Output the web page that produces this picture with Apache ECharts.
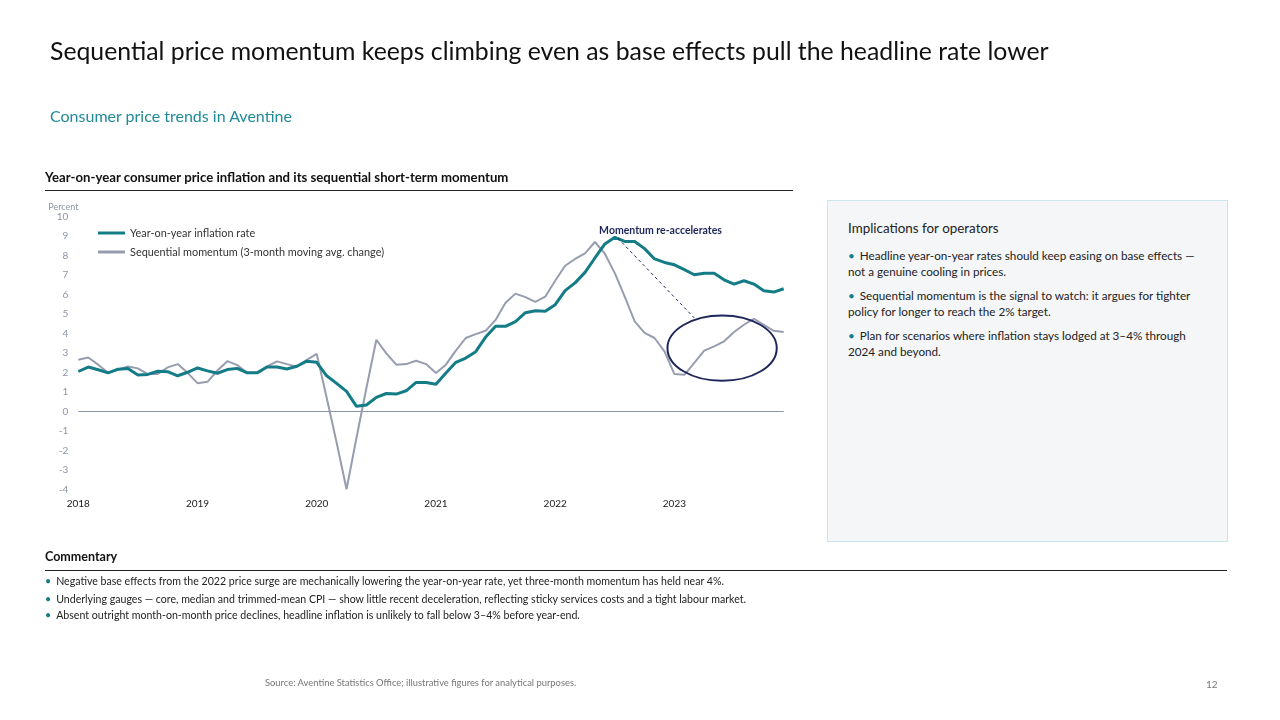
<!DOCTYPE html>
<html>
<head>
<meta charset="utf-8">
<script src="https://cdn.jsdelivr.net/npm/echarts@6/dist/echarts.min.js"></script>
<style>
  body { margin: 0; background: #fff; font-family: Lato, 'Noto Sans', sans-serif; }
  #page { position: relative; width: 1280px; height: 720px; overflow: hidden; }
  #chart { position: absolute; left: 0; top: 0; width: 1280px; height: 720px; }
  .t { position: absolute; white-space: nowrap; z-index: 2; }
  .dot { color: #137c87; margin-right: 5px; }
</style>
</head>
<body>
<div id="page">
  <div id="chart"></div>
  <div class="t" style="left:50px;top:36px;font-size:24.8px;line-height:30px;color:#111;">Sequential price momentum keeps climbing even as base effects pull the headline rate lower</div>
  <div class="t" style="left:50px;top:106px;font-size:16px;line-height:20px;color:#1f8b98;">Consumer price trends in Aventine</div>
  <div class="t" style="left:45px;top:169px;font-size:13.2px;line-height:16px;font-weight:bold;color:#111;">Year-on-year consumer price inflation and its sequential short-term momentum</div>
  <div class="t" style="left:45px;top:190px;width:748px;height:1px;background:#222;"></div>

  <div class="t" style="left:827px;top:200px;width:399px;height:340px;background:#f4f6f8;border:1px solid #cbe7ee;"></div>
  <div class="t" style="left:848px;top:220px;font-size:13.4px;line-height:16px;color:#222;">Implications for operators</div>
  <div class="t" style="left:848px;top:247px;font-size:11.7px;line-height:16px;color:#222;"><span class="dot">•</span>Headline year-on-year rates should keep easing on base effects —<br>not a genuine cooling in prices.</div>
  <div class="t" style="left:848px;top:288px;font-size:11.7px;line-height:15.5px;color:#222;"><span class="dot">•</span>Sequential momentum is the signal to watch: it argues for tighter<br>policy for longer to reach the 2% target.</div>
  <div class="t" style="left:848px;top:328px;font-size:11.7px;line-height:15.5px;color:#222;"><span class="dot">•</span>Plan for scenarios where inflation stays lodged at 3–4% through<br>2024 and beyond.</div>

  <div class="t" style="left:45px;top:549px;font-size:12.5px;line-height:16px;font-weight:bold;color:#111;">Commentary</div>
  <div class="t" style="left:45px;top:570px;width:1182px;height:1px;background:#222;"></div>
  <div class="t" style="left:45px;top:575px;font-size:10.6px;line-height:12px;color:#222;"><span class="dot">•</span>Negative base effects from the 2022 price surge are mechanically lowering the year-on-year rate, yet three-month momentum has held near 4%.</div>
  <div class="t" style="left:45px;top:593px;font-size:10.6px;line-height:12px;color:#222;"><span class="dot">•</span>Underlying gauges — core, median and trimmed-mean CPI — show little recent deceleration, reflecting sticky services costs and a tight labour market.</div>
  <div class="t" style="left:45px;top:609px;font-size:10.6px;line-height:12px;color:#222;"><span class="dot">•</span>Absent outright month-on-month price declines, headline inflation is unlikely to fall below 3–4% before year-end.</div>

  <div class="t" style="left:265px;top:677px;font-size:9.4px;line-height:12px;color:#777;">Source: Aventine Statistics Office; illustrative figures for analytical purposes.</div>
  <div class="t" style="left:1206px;top:678px;font-size:10px;color:#777;">12</div>
</div>
<script>
// monthly observations, Jan 2018 - Dec 2023
const months = [
  '2018-01','2018-02','2018-03','2018-04','2018-05','2018-06','2018-07','2018-08','2018-09','2018-10','2018-11','2018-12',
  '2019-01','2019-02','2019-03','2019-04','2019-05','2019-06','2019-07','2019-08','2019-09','2019-10','2019-11','2019-12',
  '2020-01','2020-02','2020-03','2020-04','2020-05','2020-06','2020-07','2020-08','2020-09','2020-10','2020-11','2020-12',
  '2021-01','2021-02','2021-03','2021-04','2021-05','2021-06','2021-07','2021-08','2021-09','2021-10','2021-11','2021-12',
  '2022-01','2022-02','2022-03','2022-04','2022-05','2022-06','2022-07','2022-08','2022-09','2022-10','2022-11','2022-12',
  '2023-01','2023-02','2023-03','2023-04','2023-05','2023-06','2023-07','2023-08','2023-09','2023-10','2023-11','2023-12'
];

const yoyRate = [
  2.05, 2.28, 2.14, 1.98, 2.17, 2.2, 1.87, 1.9, 2.06, 2.04, 1.83, 2.01,
  2.23, 2.08, 1.96, 2.15, 2.21, 1.98, 1.98, 2.28, 2.28, 2.18, 2.32, 2.58,
  2.52, 1.83, 1.44, 1.03, 0.26, 0.33, 0.72, 0.92, 0.89, 1.06, 1.49, 1.49,
  1.4, 1.97, 2.52, 2.74, 3.07, 3.82, 4.37, 4.37, 4.61, 5.07, 5.17, 5.14,
  5.48, 6.2, 6.6, 7.14, 7.88, 8.6, 8.94, 8.73, 8.73, 8.36, 7.83, 7.65,
  7.53, 7.28, 7.02, 7.1, 7.1, 6.76, 6.54, 6.71, 6.54, 6.2, 6.13, 6.3
];

const momentum = [
  2.65, 2.77, 2.4, 1.98, 2.14, 2.31, 2.21, 1.92, 1.92, 2.26, 2.43, 1.98,
  1.45, 1.52, 2.1, 2.58, 2.38, 1.98, 1.98, 2.31, 2.57, 2.43, 2.3, 2.65,
  2.95, 0.7, -1.6, -4.0, -1.35, 1.2, 3.68, 2.98, 2.4, 2.43, 2.6, 2.43,
  1.97, 2.4, 3.12, 3.77, 3.97, 4.14, 4.7, 5.58, 6.05, 5.87, 5.63, 5.89,
  6.71, 7.48, 7.83, 8.12, 8.7, 8.1, 7.1, 5.9, 4.62, 4.03, 3.77, 3.08,
  1.92, 1.88, 2.49, 3.12, 3.34, 3.6, 4.08, 4.45, 4.76, 4.45, 4.14, 4.08
];

const seriesNames = ['Year-on-year inflation rate', 'Sequential momentum (3-month moving avg. change)'];

// annotation, in [month index, percent]
const noteText = 'Momentum re-accelerates';
const notePos = [58.6, 9.3];
const noteLine = [[54.3, 8.9], [62.0, 4.8]];
const noteRing = { center: [64.8, 3.25], rx: 5.5, ry: 1.68 };

const TEAL = '#137c87';
const GREY = '#979daf';
const NAVY = '#1d2759';

const chart = echarts.init(document.getElementById('chart'));

chart.setOption({
  animation: false,
  textStyle: { fontFamily: 'Lato, "Noto Sans", sans-serif' },
  grid: { left: 78.3, right: 496.3, top: 216.7, bottom: 230.7, containLabel: false },
  legend: {
    left: 98, top: 226, orient: 'vertical', padding: 0,
    icon: 'rect', itemWidth: 27, itemHeight: 3, itemGap: 5,
    textStyle: { fontSize: 10.9, color: '#333', lineHeight: 14 },
    data: seriesNames
  },
  xAxis: {
    type: 'category', data: months, boundaryGap: false,
    axisLine: { show: false }, axisTick: { show: false },
    axisLabel: {
      interval: (idx) => idx % 12 === 0,
      formatter: v => v.slice(0, 4),
      color: '#222', fontSize: 10, margin: 9
    }
  },
  yAxis: {
    type: 'value', min: -4, max: 10, interval: 1,
    name: 'Percent', nameLocation: 'end', nameGap: 4,
    nameTextStyle: { color: '#8c94a6', fontSize: 9, align: 'left', padding: [0, 0, 0, -30] },
    axisLine: { show: false }, axisTick: { show: false }, splitLine: { show: false },
    axisLabel: { color: '#8c94a6', fontSize: 10, margin: 10 }
  },
  series: [
    {
      name: seriesNames[0], type: 'line', data: yoyRate, symbol: 'none',
      lineStyle: { color: TEAL, width: 3 }, itemStyle: { color: TEAL }, z: 3,
      markLine: {
        silent: true, symbol: 'none', label: { show: false },
        lineStyle: { color: '#8c94a6', width: 1, type: 'solid' },
        data: [{ yAxis: 0 }]
      }
    },
    {
      name: seriesNames[1], type: 'line', data: momentum, symbol: 'none',
      lineStyle: { color: GREY, width: 2 }, itemStyle: { color: GREY }, z: 2
    }
  ]
});

// place annotation through the chart's own scales
function toPx(pt) {
  const a = chart.convertToPixel({ gridIndex: 0 }, [0, pt[1]]);
  const b = chart.convertToPixel({ gridIndex: 0 }, [months.length - 1, pt[1]]);
  return [a[0] + (b[0] - a[0]) * pt[0] / (months.length - 1), a[1]];
}
const c = toPx(noteRing.center);
const rxPx = toPx([noteRing.center[0] + noteRing.rx, 0])[0] - c[0];
const ryPx = toPx([0, 0])[1] - toPx([0, noteRing.ry])[1];
const l0 = toPx(noteLine[0]), l1 = toPx(noteLine[1]);
const tp = toPx(notePos);

chart.setOption({
  graphic: [
    { type: 'ellipse', shape: { cx: c[0], cy: c[1], rx: rxPx, ry: ryPx },
      style: { fill: 'none', stroke: NAVY, lineWidth: 2 }, z: 10 },
    { type: 'line', shape: { x1: l0[0], y1: l0[1], x2: l1[0], y2: l1[1] },
      style: { stroke: NAVY, lineWidth: 1, lineDash: [3, 3] }, z: 10 },
    { type: 'text', x: tp[0], y: tp[1],
      style: { text: noteText, fill: NAVY, font: 'bold 10.5px Lato, "Noto Sans", sans-serif', align: 'center', verticalAlign: 'middle' }, z: 10 }
  ]
});
</script>
</body>
</html>
